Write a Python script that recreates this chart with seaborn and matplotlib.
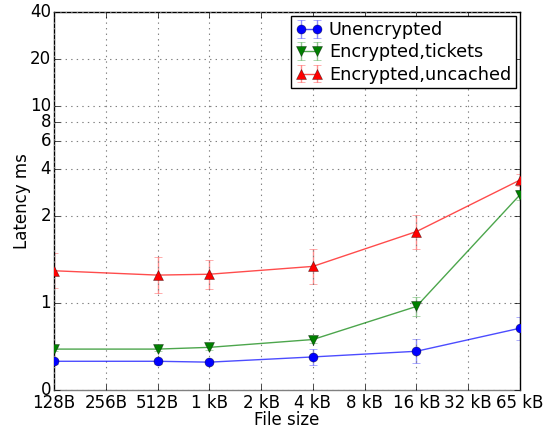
import numpy as np
import pandas as pd
import matplotlib
matplotlib.use('Agg')
import matplotlib.pyplot as plt
import seaborn as sns
from matplotlib.container import ErrorbarContainer

# file sizes in bytes
sizes = [128, 512, 1024, 4096, 16384, 65536]

unenc = [0.33, 0.33, 0.32, 0.38, 0.445, 0.71]
unenc_err = [0.03, 0.03, 0.02, 0.09, 0.14, 0.13]

tickets = [0.47, 0.47, 0.49, 0.58, 0.96, 2.73]
tickets_err = [0.02, 0.02, 0.03, 0.04, 0.11, 0.2]

uncached = [1.37, 1.32, 1.33, 1.42, 1.82, 3.39]
uncached_err = [0.2, 0.21, 0.165, 0.2, 0.2, 0.3]

xtick_labels = ['128B', '256B', '512B', '1 kB', '2 kB', '4 kB', '8 kB', '16 kB', '32 kB', '65 kB']
yticks = [0, 1, 2, 4, 6, 8, 10, 20, 40]

plt.style.use('classic')
plt.rcParams['figure.facecolor'] = 'white'

fig = plt.figure(figsize=(5.47, 4.30), dpi=100)
ax = fig.add_axes([0.0987, 0.093, 0.852, 0.879])

series = [
    ('Unencrypted', unenc, unenc_err, 'b', 'o'),
    ('Encrypted,tickets', tickets, tickets_err, 'g', 'v'),
    ('Encrypted,uncached', uncached, uncached_err, 'r', '^'),
]

handles = []
for label, vals, errs, color, marker in series:
    df = pd.DataFrame({'size': sizes, 'latency': vals})
    n_before = len(ax.lines)
    sns.lineplot(data=df, x='size', y='latency', color=color, marker=marker,
                 markersize=6.5, markeredgecolor='k', markeredgewidth=0.4,
                 linewidth=1, ax=ax, legend=False, zorder=3)
    line = ax.lines[n_before]
    line.set_color(matplotlib.colors.to_rgba(color, 0.7))
    line.set_markerfacecolor(color)
    line.set_markeredgecolor(matplotlib.colors.to_rgba('k', 0.6))
    eb = ax.errorbar(sizes, vals, yerr=errs, fmt='none', ecolor=color,
                     alpha=0.45, capsize=3, elinewidth=1, zorder=2)
    handles.append(ErrorbarContainer((line, eb.lines[1], eb.lines[2]),
                                     has_xerr=False, has_yerr=True, label=label))

ax.set_xscale('log', base=2)
ax.set_xlim(128, 65536)
ax.set_xticks([128 * 2 ** i for i in range(len(xtick_labels))])
ax.set_xticklabels(xtick_labels)
ax.xaxis.set_minor_locator(matplotlib.ticker.NullLocator())

ax.set_yscale('symlog', linthresh=2, linscale=1)
ax.set_ylim(0, 40)
ax.set_yticks(yticks)
ax.set_yticklabels([str(t) for t in yticks])
ax.yaxis.set_minor_locator(matplotlib.ticker.NullLocator())
ax.tick_params(axis='y', pad=2)
ax.tick_params(axis='x', pad=3)
ax.spines['bottom'].set_color('0.5')

ax.grid(True, color='0.5', linestyle=':', linewidth=0.8)
ax.set_xlabel('File size', labelpad=-1)
ax.set_ylabel('Latency ms', labelpad=-1)

ax.legend(handles=handles, loc='upper right', numpoints=2, fontsize=12.7,
          borderpad=0.25, handletextpad=0.4, labelspacing=0.25, handlelength=1.5,
          borderaxespad=0.25)

fig.savefig('out.png', dpi=100, facecolor='white')
